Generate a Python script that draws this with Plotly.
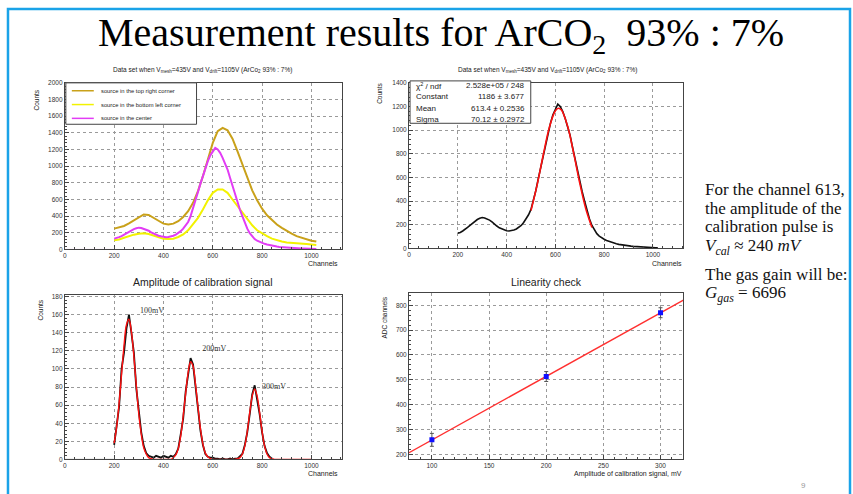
import plotly.graph_objects as go

# ---------------- data ----------------
# Spectrum of the source in the centre (counts per channel, every 10 channels)
center_channels = list(range(200, 1030, 10))
center_counts = [130, 135, 148, 160, 178, 195, 212, 230, 245, 255,
                 262, 258, 250, 240, 225, 205, 190, 175, 165, 158,
                 150, 148, 150, 156, 165, 178, 195, 220, 250, 285,
                 330, 400, 490, 590, 690, 790, 890, 980, 1060, 1130,
                 1180, 1220, 1200, 1160, 1100, 1035, 960, 860, 760, 660,
                 570, 480, 400, 320, 250, 195, 155, 125, 105, 90,
                 78, 68, 60, 52, 45, 40, 35, 31, 28, 25,
                 22, 20, 18, 16, 14, 13, 12, 11, 10, 9,
                 8, 6, 5]

# Other source positions (every 20 channels)
corner_channels = list(range(200, 1030, 20))
top_right_counts = [250, 262, 282, 312, 350, 390, 420, 415, 385, 345,
                    310, 300, 310, 340, 390, 460, 560, 700, 880, 1080,
                    1280, 1420, 1460, 1430, 1330, 1180, 1020, 860, 710, 590,
                    490, 410, 350, 300, 260, 220, 190, 160, 140, 120,
                    105, 95]
bottom_left_counts = [110, 120, 140, 160, 178, 190, 195, 185, 165, 145,
                      130, 125, 130, 150, 180, 230, 300, 380, 480, 590,
                      680, 720, 720, 680, 600, 520, 440, 370, 290, 230,
                      190, 160, 130, 110, 95, 85, 78, 72, 68, 65,
                      60, 55]

# Gaussian fit curve on the centre spectrum
fit_channels = [500, 525, 550, 575, 600, 613, 625, 650, 675, 700, 725, 750]
fit_counts = [321, 536, 788, 1021, 1165, 1186, 1170, 1035, 806, 553, 334, 178]
stats_names = ["χ<sup>2</sup> / ndf", "Constant", "Mean", "Sigma"]
stats_values = ["2.528e+05 / 248", "1186 ± 3.677", "613.4 ± 0.2536", "70.12 ± 0.2972"]

# Calibration pulses spectrum
cal_channels = list(range(200, 850, 10))
cal_counts = [16, 38, 58, 100, 118, 145, 160, 140, 118, 78,
              52, 30, 15, 7, 4, 3, 2, 4, 3, 2,
              4, 3, 2, 4, 3, 6, 12, 28, 45, 75,
              95, 112, 105, 80, 55, 32, 16, 6, 3, 2,
              2, 1, 1, 0, 1, 0, 0, 1, 0, 1,
              1, 3, 6, 16, 30, 50, 72, 82, 68, 50,
              30, 15, 7, 3, 1]
cal_fit_channels = list(range(200, 1010, 10))
cal_fit_counts = [18, 36, 62, 94, 126, 149, 155, 141, 114, 81,
                  50, 28, 13, 6, 2, 1, 0, 0, 0, 0,
                  0, 0, 0, 0, 2, 5, 12, 26, 48, 73,
                  96, 108, 103, 83, 58, 34, 17, 7, 3, 1,
                  0, 0, 0, 0, 0, 0, 0, 0, 0, 0,
                  1, 2, 6, 15, 31, 52, 70, 78, 70, 52,
                  31, 15, 6, 2, 1, 0, 0, 0, 0, 0,
                  0, 0, 0, 0, 0, 0, 0, 0, 0, 0,
                  0]
cal_labels = ["100mV", "200mV", "300mV"]
cal_label_x = [305, 557, 800]
cal_label_y = [164, 122, 80]

# Linearity check
amp_mv = [100, 200, 300]
adc_ch = [258, 513, 770]
adc_err = [26, 20, 20]
lin_fit_x = [80, 320]
lin_fit_y = [206, 821]

# ---------------- figure ----------------
W, H = 853, 494
def px(x):
    return x / W
def py(y):
    return 1 - y / H

fig = go.Figure()

# top-left: three spectra
fig.add_trace(go.Scatter(x=[0, 200], y=[0, 0], mode="lines",
                         line=dict(color="#e23cf5", width=1), xaxis="x", yaxis="y"))
fig.add_trace(go.Scatter(x=corner_channels, y=top_right_counts, mode="lines",
                         line=dict(color="#c9a11a", width=2), xaxis="x", yaxis="y"))
fig.add_trace(go.Scatter(x=corner_channels, y=bottom_left_counts, mode="lines",
                         line=dict(color="#f2f200", width=2), xaxis="x", yaxis="y"))
fig.add_trace(go.Scatter(x=center_channels, y=center_counts, mode="lines",
                         line=dict(color="#e23cf5", width=2), xaxis="x", yaxis="y"))

# top-right: centre spectrum with gaussian fit
fig.add_trace(go.Scatter(x=center_channels, y=center_counts, mode="lines",
                         line=dict(color="#111111", width=1.6), xaxis="x2", yaxis="y2"))
fig.add_trace(go.Scatter(x=fit_channels, y=fit_counts, mode="lines", line_shape="spline",
                         line=dict(color="#ff1010", width=1.6), xaxis="x2", yaxis="y2"))

# bottom-left: calibration pulses
fig.add_trace(go.Scatter(x=[0, 200], y=[0, 0], mode="lines",
                         line=dict(color="#111111", width=1), xaxis="x3", yaxis="y3"))
fig.add_trace(go.Scatter(x=cal_channels, y=cal_counts, mode="lines",
                         line=dict(color="#111111", width=1.8), xaxis="x3", yaxis="y3"))
fig.add_trace(go.Scatter(x=cal_fit_channels, y=cal_fit_counts, mode="lines", line_shape="spline",
                         line=dict(color="#ff1010", width=1.4), xaxis="x3", yaxis="y3"))
fig.add_trace(go.Scatter(x=cal_label_x, y=cal_label_y, mode="text", text=cal_labels,
                         textposition="middle right",
                         textfont=dict(family="Liberation Serif", size=8, color="#333"),
                         xaxis="x3", yaxis="y3"))

# bottom-right: linearity
fig.add_trace(go.Scatter(x=lin_fit_x, y=lin_fit_y, mode="lines",
                         line=dict(color="#ff3030", width=1.4), xaxis="x4", yaxis="y4"))
fig.add_trace(go.Scatter(x=amp_mv, y=adc_ch, mode="markers",
                         marker=dict(symbol="square", size=5, color="#1010ff"),
                         error_y=dict(type="data", array=adc_err, color="#555", thickness=1, width=2),
                         xaxis="x4", yaxis="y4"))

tickfont = dict(family="Liberation Sans", size=6.5, color="#333")

def ax(domain, rng, dtick, minor_dtick, anchor, tick0=0):
    return dict(domain=domain, range=rng, dtick=dtick, tick0=tick0, anchor=anchor,
                showline=True, mirror=True, linecolor="#444", linewidth=1,
                ticks="inside", ticklen=4, tickcolor="#444", tickfont=tickfont,
                showgrid=True, gridcolor="#9a9a9a", griddash="dot", gridwidth=1,
                zeroline=False, fixedrange=True,
                minor=dict(ticks="inside", ticklen=2, tickcolor="#444", dtick=minor_dtick,
                           tick0=tick0, showgrid=False))

layout = dict(
    width=W, height=H, margin=dict(l=0, r=0, t=0, b=0),
    paper_bgcolor="white", plot_bgcolor="white", showlegend=False,
    xaxis=ax([px(63), px(341)], [0, 1125], 200, 40, "y"),
    yaxis=ax([py(249), py(80)], [0, 2000], 200, 40, "x"),
    xaxis2=ax([px(408), px(683)], [0, 1125], 200, 40, "y2"),
    yaxis2=ax([py(248), py(80)], [0, 1400], 200, 40, "x2"),
    xaxis3=ax([px(63), px(341)], [0, 1125], 200, 40, "y3"),
    yaxis3=ax([py(462), py(295)], [0, 182], 20, 4, "x3"),
    xaxis4=ax([px(408), px(683)], [80, 320], 50, 10, "y4", tick0=100),
    yaxis4=ax([py(462), py(293)], [179, 850], 100, 20, "x4", tick0=200),
)
fig.update_layout(**layout)

ann = []
def text(x, y, s, size, family="Liberation Sans", color="#222", xanchor="center",
         yanchor="middle", angle=0):
    ann.append(dict(x=px(x), y=py(y), xref="paper", yref="paper", text=s, showarrow=False,
                    font=dict(family=family, size=size, color=color),
                    xanchor=xanchor, yanchor=yanchor, textangle=angle))

# slide title
text(440, 31, "Measurement results for ArCO<sub>2</sub>  93% : 7%", 40,
     family="Liberation Serif", color="#000")

# panel titles
sub = "Data set when V<sub>mesh</sub>=435V and V<sub>drift</sub>=1105V (ArCo<sub>2</sub> 93% : 7%)"
text(201, 67, sub, 6.5)
text(547, 67, sub, 6.5)
text(201, 282, "Amplitude of calibration signal", 10.5)
text(546, 282, "Linearity check", 10.5)

# axis titles
text(35, 97, "Counts", 6.5, angle=-90)
text(379, 91, "Counts", 6.5, angle=-90)
text(39, 310, "Counts", 6.5, angle=-90)
text(383, 318, "ADC channels", 6.5, angle=-90)
text(339, 263, "Channels", 7, xanchor="right")
text(684, 263, "Channels", 7, xanchor="right")
text(339, 476, "Channels", 7, xanchor="right")
text(684, 477, "Amplitude of calibration signal, mV", 7, xanchor="right")

# legend (top-left)
legend_names = ["source in the top right corner", "source in the bottom left corner",
                "source in the center"]
legend_colors = ["#c9a11a", "#f2f200", "#e23cf5"]
legend_y = [88, 102, 116]
shapes = [dict(type="rect", xref="paper", yref="paper", x0=px(64), x1=px(195), y0=py(80), y1=py(122),
               line=dict(color="#444", width=1), fillcolor="white", layer="above")]
for name, col, yy in zip(legend_names, legend_colors, legend_y):
    shapes.append(dict(type="line", xref="paper", yref="paper", x0=px(70), x1=px(92),
                       y0=py(yy), y1=py(yy), line=dict(color=col, width=1.5), layer="above"))
    text(97, yy, name, 5.8, xanchor="left")

# stats box (top-right)
shapes.append(dict(type="rect", xref="paper", yref="paper", x0=px(409), x1=px(530),
                   y0=py(78), y1=py(121), line=dict(color="#444", width=1),
                   fillcolor="white", layer="above"))
for i, (nm, val) in enumerate(zip(stats_names, stats_values)):
    yy = 83 + i * 11.3
    text(413, yy, nm, 8, xanchor="left")
    text(526, yy, val, 8, xanchor="right")

# slide frame
shapes.append(dict(type="rect", xref="paper", yref="paper", x0=px(6), x1=px(850),
                   y0=py(505), y1=py(5), line=dict(color="#1aa3e8", width=2.5)))

# right-hand text
serif = "Liberation Serif"
rt = 17
text(703, 188, "For the channel 613,", rt, family=serif, color="#111", xanchor="left")
text(703, 207, "the amplitude of the", rt, family=serif, color="#111", xanchor="left")
text(703, 226, "calibration pulse is", rt, family=serif, color="#111", xanchor="left")
text(703, 246, "<i>V</i><sub><i>cal</i></sub> ≈ 240 <i>mV</i>", rt, family=serif, color="#111",
     xanchor="left")
text(703, 274, "The gas gain will be:", rt, family=serif, color="#111", xanchor="left")
text(703, 294, "<i>G</i><sub><i>gas</i></sub> = 6696", rt, family=serif, color="#111",
     xanchor="left")
text(803, 488, "9", 8, color="#999")

fig.update_layout(annotations=ann, shapes=shapes)
fig.write_html("out.html")
